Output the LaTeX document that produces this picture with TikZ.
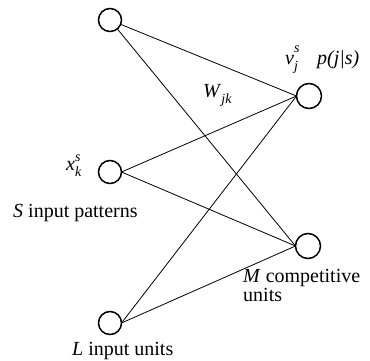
\documentclass[tikz,border=0pt]{standalone}
\usepackage{fontspec}
\setmainfont{Liberation Serif}
\newcommand\scr[3]{\textit{#1}\makebox[0pt][l]{\raisebox{#2}{\fontsize{14}{14}\selectfont\textit{#3}}}}
\newcommand\sbs[4]{\textit{#1}\makebox[0pt][l]{\raisebox{#2}{\fontsize{14}{14}\selectfont\textit{#3}}}\raisebox{-6.5pt}{\fontsize{14}{14}\selectfont\textit{#4}}}
\begin{document}
\begin{tikzpicture}[x=1pt,y=-1pt,
  unit/.style={circle,draw,line width=1.5pt,minimum size=23pt,inner sep=0pt,outer sep=0pt},
  conn/.style={line width=0.8pt},
  lbl/.style={inner sep=0pt,anchor=base west,font=\fontsize{20}{22}\selectfont}]
\useasboundingbox (0,0) rectangle (370,360);
\node[unit] (i1) at (110,20) {};
\node[unit] (i2) at (110,172) {};
\node[unit] (i3) at (110,323) {};
\node[unit,minimum size=25pt] (o1) at (309,96) {};
\node[unit,minimum size=25pt] (o2) at (308,246) {};
\draw[conn] (i1) -- (o1.west);
\draw[conn] (i1) -- (o2.west);
\draw[conn] (i2.east) -- (o1.west);
\draw[conn] (i2.east) -- (o2.west);
\draw[conn] (i3.east) -- (o1.west);
\draw[conn] (i3.east) -- (o2.west);
\node[lbl] (vjs) at (285,64) {\sbs{v}{12pt}{s}{j}};
\node[lbl] (pjs) at (317,64) {\textit{p(j|s)}};
\node[lbl] (wjk) at (203,97) {\textit{W}\raisebox{-6pt}{\fontsize{14}{14}\selectfont\textit{jk}}};
\node[lbl] (xks) at (66,170) {\sbs{x}{9pt}{s}{k}};
\node[lbl] (spat) at (13,217) {\textit{S} input patterns};
\node[lbl] (mcomp) at (243,282) {\textit{M} competitive};
\node[lbl] (munits) at (243,301) {units};
\node[lbl] (linp) at (72,355) {\textit{L} input units};
\end{tikzpicture}
\end{document}
